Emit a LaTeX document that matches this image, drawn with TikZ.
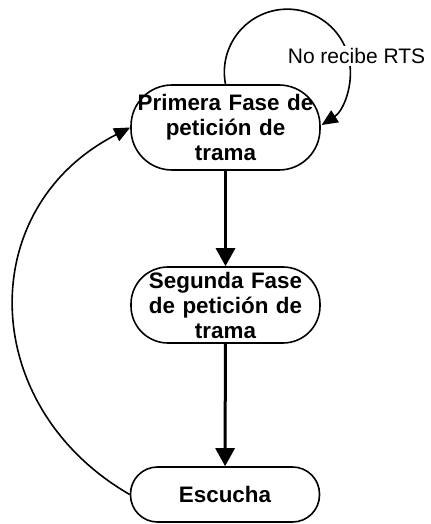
\documentclass[tikz,border=0pt]{standalone}
\usepackage{fontspec}
\setmainfont{Liberation Sans}
\usetikzlibrary{arrows.meta}

\begin{document}
\begin{tikzpicture}[x=0.5pt, y=0.5pt]
\tikzstyle{stater}=[rectangle, draw=black, line width=0.8pt, minimum width=94.5pt, text width=92.5pt, inner xsep=1pt, inner ysep=0pt, align=center, font=\fontsize{11.2}{12.5}\selectfont\bfseries]
\tikzstyle{thickarrow}=[line width=1.5pt, -{Triangle[length=9pt, width=9.5pt]}]
\tikzstyle{thinarrow}=[line width=0.8pt, -{Triangle[length=8pt, width=7pt]}]
\tikzstyle{labelr}=[fill=white, inner sep=1pt, font=\fontsize{10.5}{12}\selectfont]

\useasboundingbox (0,0) rectangle (430,524);

\node[stater, minimum height=42.5pt, rounded corners=20.5pt] (G0x0) at (225.5,396.5) {Primera Fase de\\petición de\\trama};
\node[stater, minimum height=38pt, rounded corners=18.5pt] (G0x1) at (225.5,219) {Segunda Fase\\de petición de\\trama};
\node[stater, minimum height=27.5pt, rounded corners=13.5pt] (G0x2) at (225,29.5) {Escucha};
\draw[thickarrow] (G0x0) -- (G0x1);
\draw[thickarrow] (G0x1) -- (G0x2);
\draw[thinarrow] (G0x0.north) arc[start angle=191, end angle=-57, radius=31.5pt];
\node[labelr] (L0x0) at (356.5,468) {No recibe RTS};
\draw[thinarrow] (G0x2.west) to[out=150, in=207, looseness=1.23] (G0x0.west);
\end{tikzpicture}
\end{document}
